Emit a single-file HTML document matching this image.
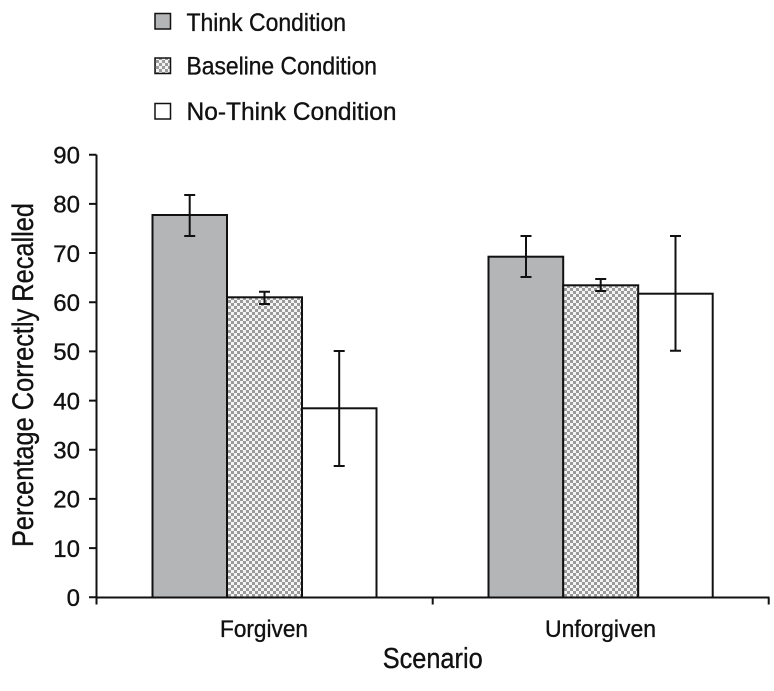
<!DOCTYPE html>
<html>
<head>
<meta charset="utf-8">
<style>
html,body{margin:0;padding:0;background:#fff;}
svg{display:block;}
text{font-family:"Liberation Sans Narrow","Liberation Sans",sans-serif;fill:#111;stroke:#111;stroke-width:0.35px;}
</style>
</head>
<body>
<svg width="774" height="691" viewBox="0 0 774 691" xmlns="http://www.w3.org/2000/svg">
<defs>
<pattern id="chk" x="0" y="0" width="6" height="6" patternUnits="userSpaceOnUse">
<rect width="6" height="6" fill="#f4f4f4"/>
<rect x="0" y="0" width="3" height="3" fill="#9a9a9a"/>
<rect x="3" y="3" width="3" height="3" fill="#9a9a9a"/>
</pattern>
</defs>

<!-- Legend -->
<rect x="155" y="13.5" width="15.5" height="15.5" fill="#b3b5b7" stroke="#111" stroke-width="1.5"/>
<text x="186.5" y="31" font-size="25" textLength="159.5" lengthAdjust="spacingAndGlyphs">Think Condition</text>
<rect x="155" y="58" width="15.5" height="15.5" fill="url(#chk)" stroke="#111" stroke-width="1.5"/>
<text x="186.5" y="74.5" font-size="25" textLength="190.5" lengthAdjust="spacingAndGlyphs">Baseline Condition</text>
<rect x="155" y="103.5" width="15.5" height="15.5" fill="#fff" stroke="#111" stroke-width="1.5"/>
<text x="186.5" y="120" font-size="25" textLength="210" lengthAdjust="spacingAndGlyphs">No-Think Condition</text>

<!-- Y axis label -->
<text transform="translate(33,375) rotate(-90)" text-anchor="middle" font-size="30" textLength="344" lengthAdjust="spacingAndGlyphs">Percentage Correctly Recalled</text>

<!-- Y ticks labels -->
<g font-size="24" text-anchor="end">
<text x="80" y="163.4">90</text>
<text x="80" y="212.6">80</text>
<text x="80" y="261.8">70</text>
<text x="80" y="310.9">60</text>
<text x="80" y="360.1">50</text>
<text x="80" y="409.3">40</text>
<text x="80" y="458.5">30</text>
<text x="80" y="507.6">20</text>
<text x="80" y="556.8">10</text>
<text x="80" y="606">0</text>
</g>

<!-- Bars -->
<g stroke="#111" stroke-width="2">
<rect x="152.5" y="215" width="74.5" height="382.5" fill="#b3b5b7"/>
<rect x="227" y="297.3" width="75" height="300.2" fill="url(#chk)"/>
<rect x="302" y="408.3" width="74.5" height="189.2" fill="#fff"/>
<rect x="488.5" y="256.7" width="74.7" height="340.8" fill="#b3b5b7"/>
<rect x="563.2" y="285.3" width="75" height="312.2" fill="url(#chk)"/>
<rect x="638.2" y="293.7" width="74.5" height="303.8" fill="#fff"/>
</g>

<!-- Error bars -->
<g stroke="#111" stroke-width="2" fill="none">
<path d="M189.7 195V236M184.2 195H195.2M184.2 236H195.2"/>
<path d="M264.5 291.7V304M259 291.7H270M259 304H270"/>
<path d="M339.2 351V466M333.7 351H344.7M333.7 466H344.7"/>
<path d="M526 236V277M520.5 236H531.5M520.5 277H531.5"/>
<path d="M600.7 279V291M595.2 279H606.2M595.2 291H606.2"/>
<path d="M675.5 236V350.7M670 236H681M670 350.7H681"/>
</g>

<!-- Axes -->
<g stroke="#111" stroke-width="2" fill="none">
<path d="M96.5 154.7V597.5"/>
<path d="M95.5 597.5H769.5"/>
<path d="M89 154.7H96.5M89 203.9H96.5M89 253H96.5M89 302.2H96.5M89 351.4H96.5M89 400.6H96.5M89 449.8H96.5M89 498.9H96.5M89 548.1H96.5M89 597.3H96.5"/>
<path d="M96.5 597.5V604.5M432.7 597.5V604.5M768.7 597.5V604.5"/>
</g>

<!-- X labels -->
<text x="264" y="637" font-size="24" text-anchor="middle" textLength="88" lengthAdjust="spacingAndGlyphs">Forgiven</text>
<text x="600.5" y="637" font-size="24" text-anchor="middle" textLength="111" lengthAdjust="spacingAndGlyphs">Unforgiven</text>
<text x="432.7" y="668" font-size="29" text-anchor="middle" textLength="100" lengthAdjust="spacingAndGlyphs">Scenario</text>
</svg>
</body>
</html>
